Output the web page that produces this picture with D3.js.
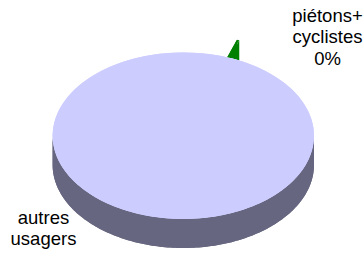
<!DOCTYPE html>
<html>
<head>
<meta charset="utf-8">
<script src="https://cdn.jsdelivr.net/npm/d3@7"></script>
<style>
  body { margin: 0; background: #fff; }
  text { font-family: "Liberation Sans", Arial, sans-serif; font-size: 18.5px; fill: #000; }
</style>
</head>
<body>
<svg id="chart" width="363" height="253"></svg>
<script>
// data
const categories = ['piétons+cyclistes', 'autres usagers'];
const shares = [0.3, 99.7];           // percent, the small one is shown as 0%
const labelLines = [['piétons+', 'cyclistes', '0%'], ['autres', 'usagers']];
const explode = [0.224, 0];
const topColors = ['#008000', '#CCCCFF'];
const sideColors = ['#007000', '#666680'];

const width = 363, height = 253;
const cx = 183.3, cy = 135.75, rx = 130.7, ry = 83.25, depth = 29;
const startDeg = 19.5;

const svg = d3.select('#chart');

const pie = d3.pie()
    .sort(null)
    .startAngle(startDeg * Math.PI / 180)
    .endAngle(startDeg * Math.PI / 180 + 2 * Math.PI);

const slices = pie(shares);

// projected point on the tilted pie, r in [0,1], dz = vertical drop
function proj(a, r, off, dz) {
    return [cx + rx * (r * Math.sin(a) + off[0]), cy - ry * (r * Math.cos(a) + off[1]) + dz];
}

const line = d3.line();

function rimPoints(a0, a1, off, dz) {
    const n = Math.max(2, Math.ceil((a1 - a0) / 0.02));
    return d3.range(n + 1).map(i => proj(a0 + (a1 - a0) * i / n, 1, off, dz));
}

// front-facing part of the outer side (angles between 90 and 270 deg)
function frontRanges(a0, a1) {
    const out = [];
    for (let k = 0; k < 2; k++) {
        const lo = Math.max(a0, Math.PI / 2 + 2 * Math.PI * k);
        const hi = Math.min(a1, 3 * Math.PI / 2 + 2 * Math.PI * k);
        if (hi > lo) out.push([lo, hi]);
    }
    return out;
}

const frontSide = line(rimPoints(Math.PI / 2, 3 * Math.PI / 2, [0, 0], 0)
    .concat(rimPoints(Math.PI / 2, 3 * Math.PI / 2, [0, 0], depth).reverse())) + 'Z';

// pulled-out slices are hidden wherever the main body of the pie sits
const mask = svg.append('defs').append('mask').attr('id', 'outside-pie');
mask.append('rect').attr('width', width).attr('height', height).attr('fill', '#fff');
mask.append('ellipse').attr('cx', cx).attr('cy', cy).attr('rx', rx).attr('ry', ry).attr('fill', '#000');
mask.append('path').attr('d', frontSide).attr('fill', '#000');

const arc = d3.arc().innerRadius(0).outerRadius(rx);

// pulled-out slices first (they sit behind), then the body
const order = d3.range(slices.length).sort((a, b) => explode[b] - explode[a]);
const bodyIdx = order.filter(i => explode[i] === 0);

order.forEach(i => {
    const s = slices[i];
    const mid = (s.startAngle + s.endAngle) / 2;
    const off = [explode[i] * Math.sin(mid), explode[i] * Math.cos(mid)];
    const g = svg.append('g').attr('class', 'slice');

    if (explode[i] > 0) {
        g.attr('mask', 'url(#outside-pie)');
        // radial walls
        [s.startAngle, s.endAngle].forEach(a => {
            const pts = [proj(a, 0, off, 0), proj(a, 1, off, 0), proj(a, 1, off, depth), proj(a, 0, off, depth)];
            g.append('path')
                .attr('d', line(pts) + 'Z')
                .attr('fill', topColors[i]);
        });
    } else if (i === bodyIdx[0]) {
        // the body closes over the gap left by the pulled-out slice
        g.append('path').attr('d', frontSide).attr('fill', sideColors[i]);
        g.append('ellipse').attr('cx', cx).attr('cy', cy).attr('rx', rx).attr('ry', ry).attr('fill', topColors[i]);
    }

    // outer side
    frontRanges(s.startAngle, s.endAngle).forEach(([lo, hi]) => {
        const top = rimPoints(lo, hi, off, 0);
        const bottom = rimPoints(lo, hi, off, depth).reverse();
        g.append('path')
            .attr('d', line(top.concat(bottom)) + 'Z')
            .attr('fill', sideColors[i]);
    });

    // top face: circular arc squashed into the ellipse
    const c = proj(0, 0, off, 0);
    g.append('path')
        .attr('d', arc(s))
        .attr('transform', `translate(${c[0]},${c[1]}) scale(1,${ry / rx})`)
        .attr('fill', topColors[i]);
});

// labels
const labelPos = [[327.5, 21.5], [43.5, 223.5]];
const lineGap = 21.5;
labelLines.forEach((lines, i) => {
    const t = svg.append('text')
        .attr('text-anchor', 'middle')
        .attr('x', labelPos[i][0])
        .attr('y', labelPos[i][1]);
    lines.forEach((l, j) => {
        t.append('tspan')
            .attr('x', labelPos[i][0])
            .attr('dy', j === 0 ? 0 : lineGap)
            .text(l);
    });
});
</script>
</body>
</html>
